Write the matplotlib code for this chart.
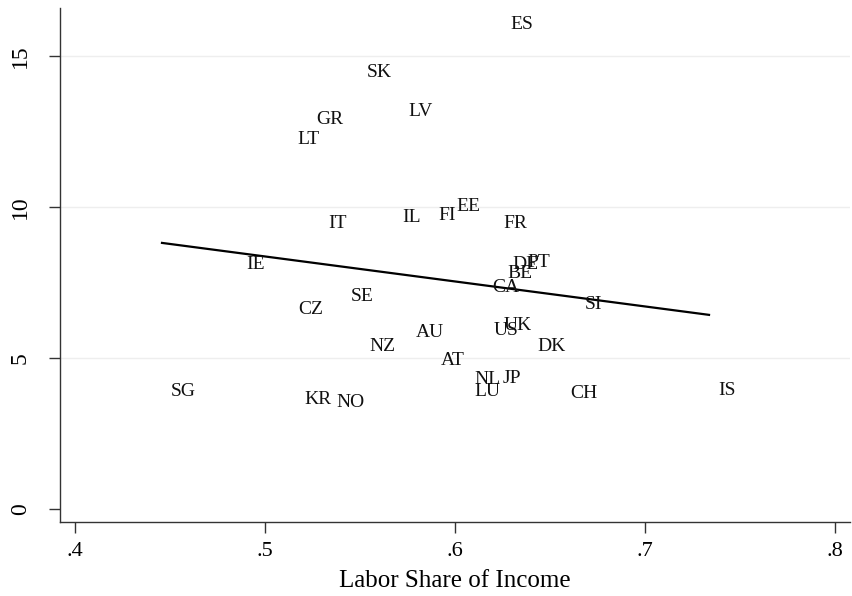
import matplotlib.pyplot as plt
import matplotlib.transforms as mtransforms

plt.rcParams['font.family'] = ['Liberation Serif', 'DejaVu Serif']

# country codes and positions (labor share, y value)
countries = ["ES", "SK", "LV", "GR", "LT", "IT", "IL", "FI", "EE", "FR",
             "IE", "DE", "PT", "BE", "CA", "SI", "SE", "CZ", "UK", "US",
             "AU", "NZ", "DK", "AT", "NL", "JP", "LU", "CH", "IS", "SG",
             "KR", "NO"]
labor_share = [0.635, 0.560, 0.582, 0.534, 0.523, 0.538, 0.577, 0.596, 0.607, 0.632,
               0.495, 0.637, 0.644, 0.634, 0.627, 0.673, 0.551, 0.524, 0.633, 0.627,
               0.587, 0.562, 0.651, 0.599, 0.617, 0.630, 0.617, 0.668, 0.743, 0.457,
               0.528, 0.545]
yvals = [16.12, 14.53, 13.24, 12.97, 12.31, 9.54, 9.74, 9.80, 10.10, 9.54,
         8.18, 8.18, 8.25, 7.88, 7.42, 6.86, 7.12, 6.69, 6.16, 6.00,
         5.93, 5.47, 5.47, 5.00, 4.38, 4.41, 3.98, 3.91, 4.01, 3.98,
         3.71, 3.62]

# fitted line end points
fit_x = [0.4458, 0.7337]
fit_y = [8.81, 6.43]

xticks = [0.4, 0.5, 0.6, 0.7, 0.8]
xticklabels = [".4", ".5", ".6", ".7", ".8"]
yticks = [0, 5, 10, 15]

fig = plt.figure(figsize=(8.53, 5.96), dpi=100)
ax = fig.add_axes([0.0703, 0.1237, 0.9262, 0.8629])

# labels sit a bit low in the original (centred on the capitals)
lab_trans = mtransforms.offset_copy(ax.transData, fig=fig, x=0, y=-1.6, units='points')
for c, xv, yv in zip(countries, labor_share, yvals):
    ax.text(xv, yv, c, ha='center', va='center', fontsize=14, color='#111111',
            transform=lab_trans)

ax.plot(fit_x, fit_y, color='black', linewidth=1.6)

ax.set_xlim(0.3921, 0.8079)
ax.set_ylim(-0.43, 16.58)

ax.set_xticks(xticks)
ax.set_xticklabels(xticklabels)
ax.set_yticks(yticks)
ax.set_yticklabels([str(t) for t in yticks], rotation=90, va='center')

for t in yticks[1:]:
    ax.axhline(t, color='#eeeeee', linewidth=1, zorder=0)

for s in ['top', 'right']:
    ax.spines[s].set_visible(False)
for s in ['left', 'bottom']:
    ax.spines[s].set_color('#333333')
    ax.spines[s].set_linewidth(1)

ax.tick_params(axis='both', direction='out', length=8, width=1, color='#333333',
               labelsize=16, pad=6)
ax.tick_params(axis='y', labelsize=17, pad=13)
ax.set_xlabel('Labor Share of Income', fontsize=18, labelpad=7)

fig.savefig('out.png', dpi=100)
